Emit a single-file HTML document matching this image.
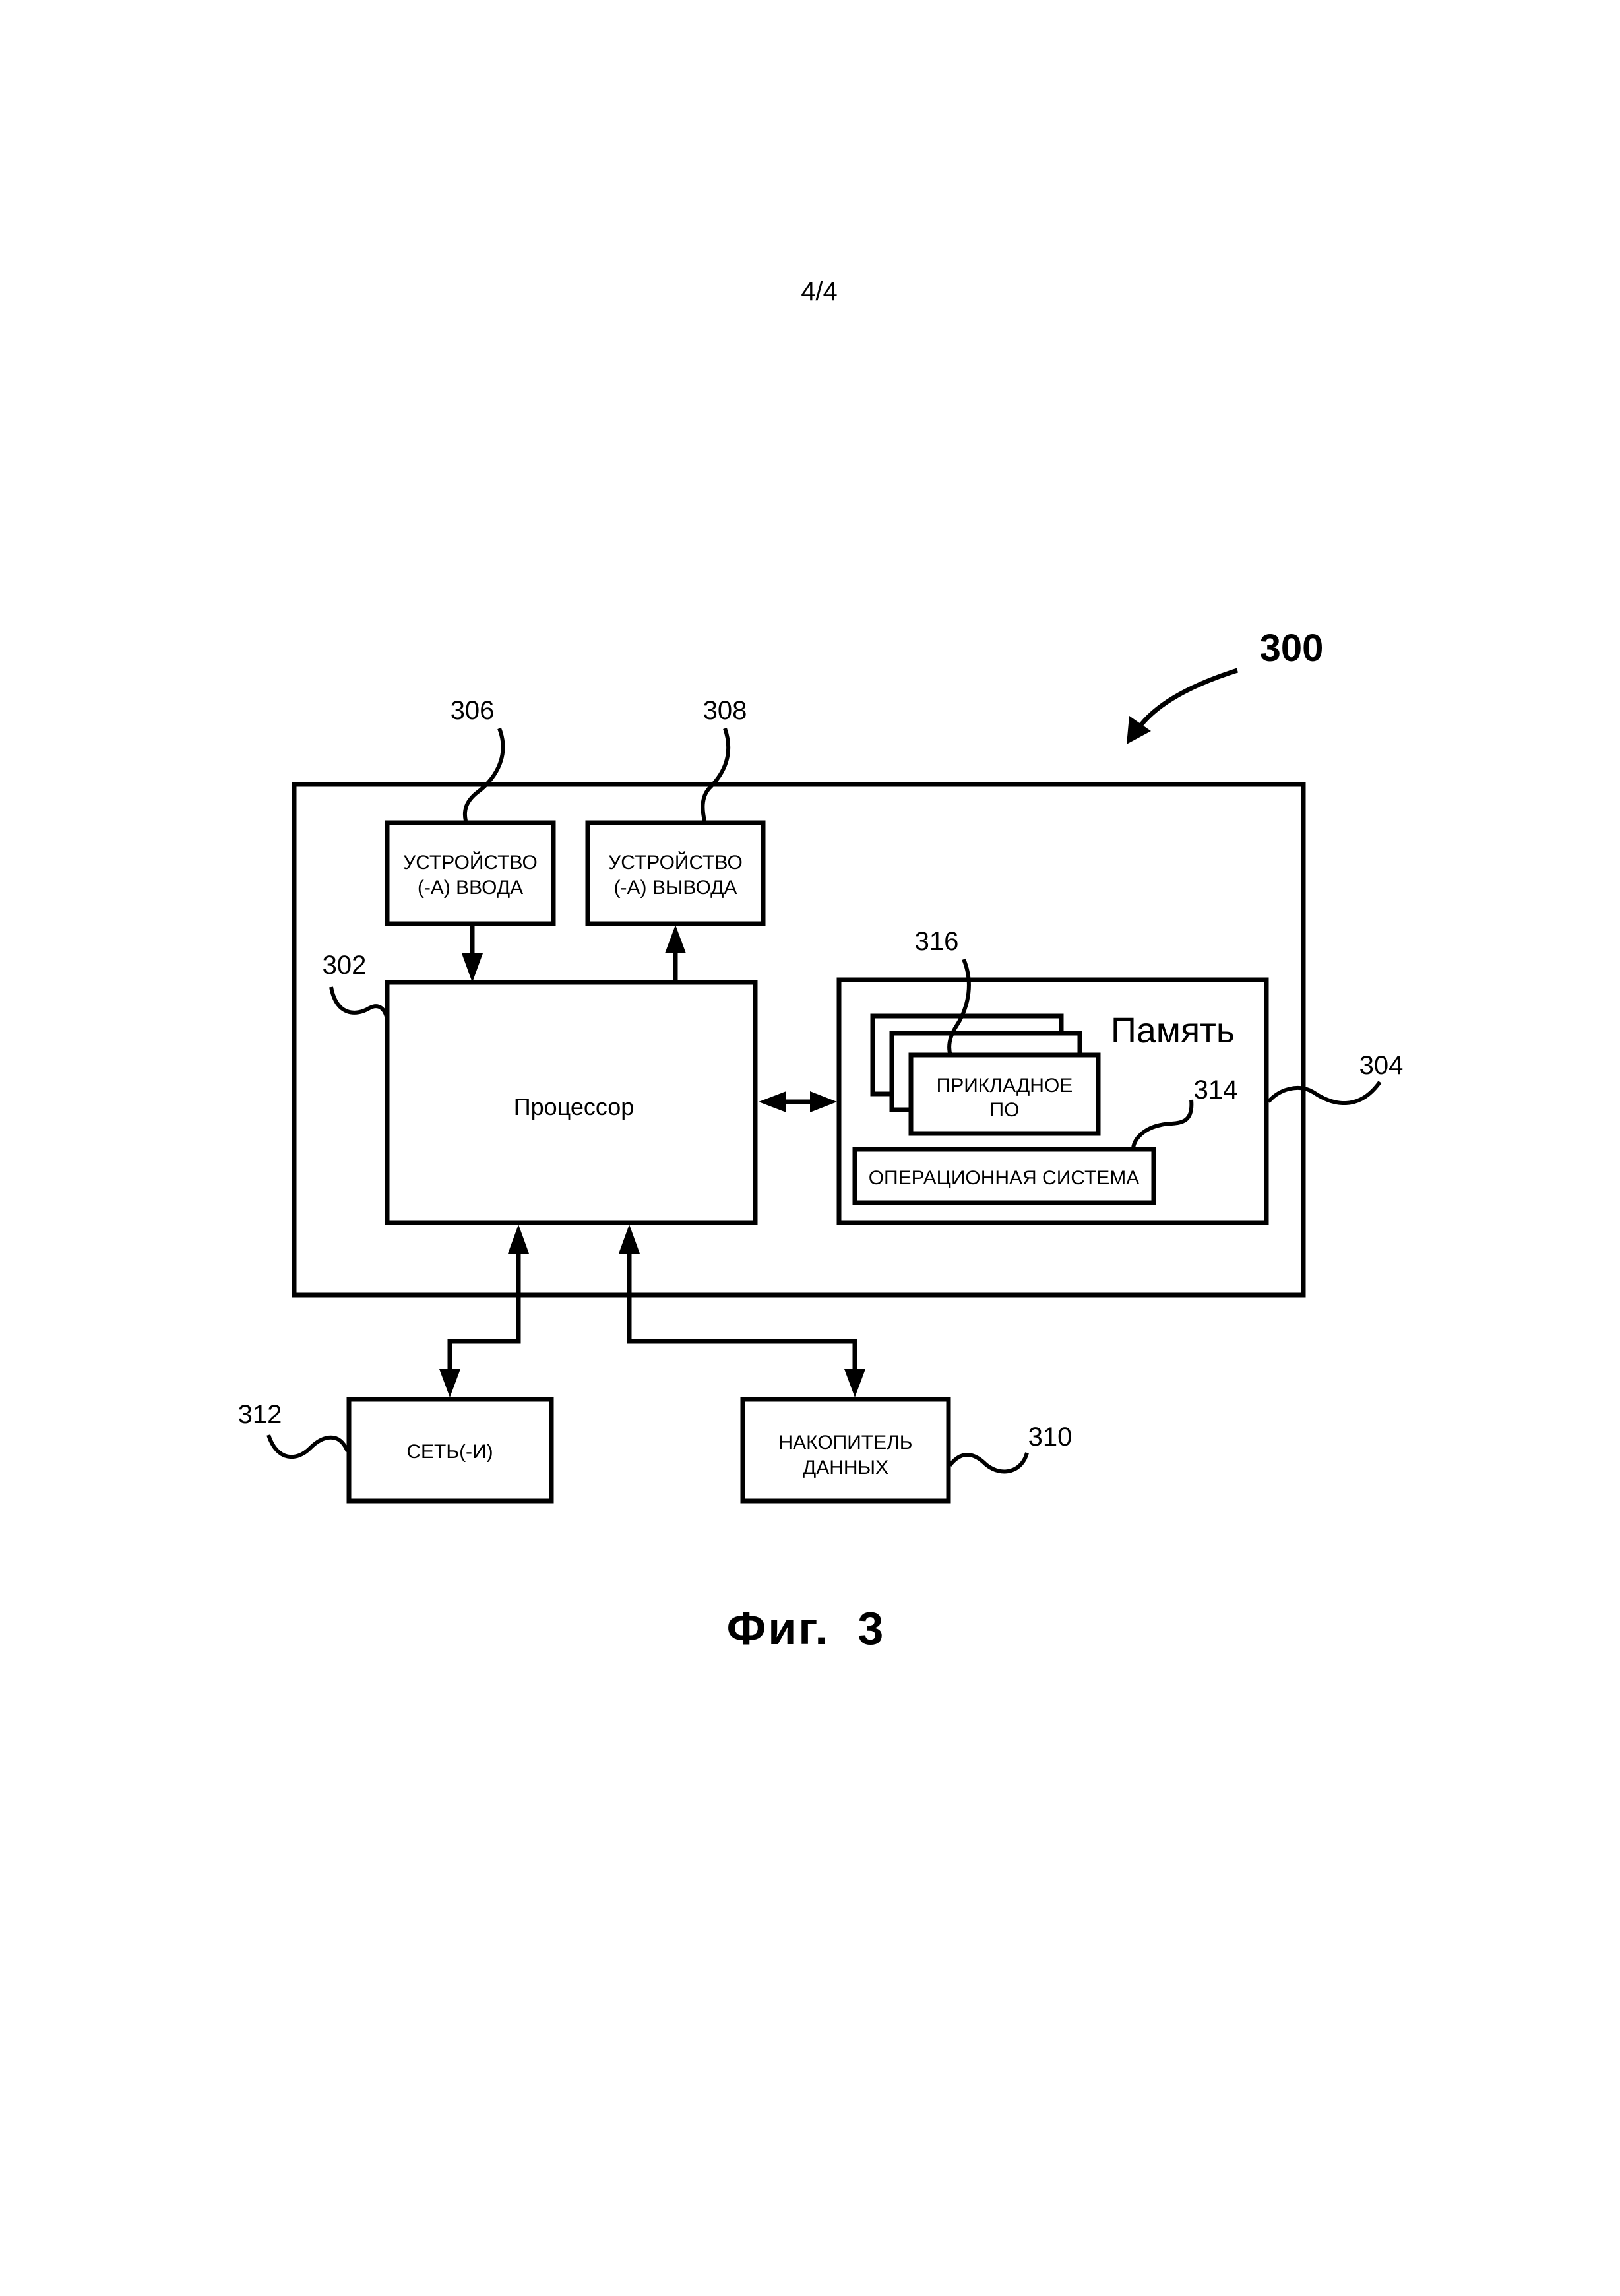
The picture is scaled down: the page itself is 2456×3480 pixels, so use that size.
<!DOCTYPE html>
<html><head><meta charset="utf-8"><style>
html,body{margin:0;padding:0;background:#fff;}
svg{display:block;}
text{font-family:"Liberation Sans",sans-serif;fill:#000;}
</style></head><body>
<svg width="2456" height="3480" viewBox="0 0 2456 3480" xmlns="http://www.w3.org/2000/svg">
<rect width="2456" height="3480" fill="#fff"/>
<text x="1242" y="455" font-size="40" text-anchor="middle">4/4</text>
<g fill="none" stroke="#000" stroke-width="7">
<rect x="446" y="1189" width="1530" height="774"/>
<rect x="587" y="1247" width="252" height="153"/>
<rect x="891" y="1247" width="266" height="153"/>
<rect x="587" y="1489" width="558" height="364"/>
<rect x="1272" y="1485" width="648" height="368"/>
<rect x="1323" y="1540" width="286" height="118" fill="#fff"/>
<rect x="1352" y="1566" width="285" height="116" fill="#fff"/>
<rect x="1381" y="1599" width="284" height="119" fill="#fff"/>
<rect x="1296" y="1742" width="453" height="81"/>
<rect x="529" y="2121" width="307" height="154"/>
<rect x="1126" y="2121" width="312" height="154"/>
<line x1="716" y1="1400" x2="716" y2="1450"/>
<line x1="1024" y1="1440" x2="1024" y2="1489"/>
<line x1="1185" y1="1670" x2="1235" y2="1670"/>
<polyline points="786,1895 786,2033 682,2033 682,2080"/>
<polyline points="954,1895 954,2033 1296,2033 1296,2080"/>
<path d="M757,1104 C775,1150 745,1185 725,1200 C705,1215 703,1230 706,1244" stroke-width="6"/>
<path d="M1099,1104 C1115,1150 1090,1180 1075,1195 C1062,1210 1065,1230 1068,1244" stroke-width="6"/>
<path d="M502,1496 C510,1540 540,1540 560,1528 C575,1520 584,1530 587,1545" stroke-width="6"/>
<path d="M1461,1454 C1480,1500 1460,1540 1450,1555 C1437,1575 1438,1590 1441,1600" stroke-width="6"/>
<path d="M1806,1667 C1810,1710 1780,1700 1760,1705 C1735,1710 1720,1725 1718,1740" stroke-width="6"/>
<path d="M1923,1670 C1940,1650 1970,1642 1992,1656 C2020,1675 2060,1685 2092,1640" stroke-width="6"/>
<path d="M407,2175 C420,2215 450,2215 470,2195 C490,2175 515,2170 527,2200" stroke-width="6"/>
<path d="M1440,2221 C1460,2195 1480,2205 1495,2220 C1520,2240 1550,2230 1557,2202" stroke-width="6"/>
<path d="M1876,1016 C1800,1040 1750,1070 1725,1105" stroke-width="7"/>
</g>
<g fill="#000">
<polygon points="700,1445 732,1445 716,1489"/>
<polygon points="1008,1445 1040,1445 1024,1402"/>
<polygon points="1150,1670 1192,1654 1192,1686"/>
<polygon points="1269,1670 1228,1654 1228,1686"/>
<polygon points="770,1900 802,1900 786,1856"/>
<polygon points="938,1900 970,1900 954,1856"/>
<polygon points="666,2075 698,2075 682,2118"/>
<polygon points="1280,2075 1312,2075 1296,2118"/>
<polygon points="1708,1128 1712,1085 1745,1108"/>
</g>
<g font-size="40">
<text x="716" y="1090" text-anchor="middle">306</text>
<text x="1099" y="1090" text-anchor="middle">308</text>
<text x="522" y="1476" text-anchor="middle">302</text>
<text x="1420" y="1440" text-anchor="middle">316</text>
<text x="1843" y="1665" text-anchor="middle">314</text>
<text x="2094" y="1628" text-anchor="middle">304</text>
<text x="394" y="2157" text-anchor="middle">312</text>
<text x="1592" y="2191" text-anchor="middle">310</text>
</g>
<text x="1958" y="1002" font-size="58" font-weight="bold" text-anchor="middle">300</text>
<g font-size="30" text-anchor="middle">
<text x="713" y="1317">УСТРОЙСТВО</text>
<text x="713" y="1355">(-А) ВВОДА</text>
<text x="1024" y="1317">УСТРОЙСТВО</text>
<text x="1024" y="1355">(-А) ВЫВОДА</text>
<text x="1523" y="1655">ПРИКЛАДНОЕ</text>
<text x="1523" y="1692">ПО</text>
<text x="1522" y="1795">ОПЕРАЦИОННАЯ СИСТЕМА</text>
<text x="682" y="2210">СЕТЬ(-И)</text>
<text x="1282" y="2196">НАКОПИТЕЛЬ</text>
<text x="1282" y="2234">ДАННЫХ</text>
</g>
<text x="870" y="1690" font-size="36" text-anchor="middle">Процессор</text>
<text x="1778" y="1580" font-size="54" text-anchor="middle">Память</text>
<text x="1222" y="2492" font-size="70" font-weight="bold" text-anchor="middle" letter-spacing="3" word-spacing="20">Фиг. 3</text>
</svg>
</body></html>
